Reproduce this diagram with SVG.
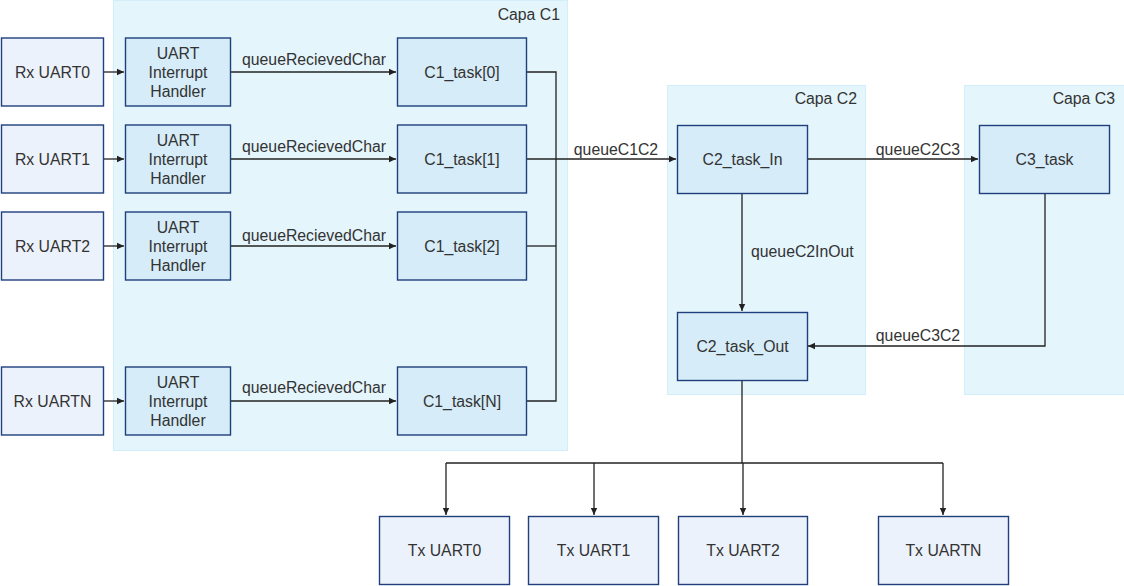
<svg xmlns="http://www.w3.org/2000/svg" width="1124" height="586" viewBox="0 0 1124 586">
<defs>
<style>
text{font-family:"Liberation Sans",Arial,sans-serif;font-size:15.8px;fill:#333;}
.mid{text-anchor:middle;}
.end{text-anchor:end;}
.cont{fill:#e4f5fc;stroke:#d2eef9;stroke-width:1;}
.task{fill:#d6ecf8;stroke:#1f3f7d;stroke-width:1.4;}
.io{fill:#ecf2fb;stroke:#1f3f7d;stroke-width:1.4;}
.ln{fill:none;stroke:#222;stroke-width:1.3;}
</style>
<marker id="ah" markerWidth="8" markerHeight="8" refX="7" refY="4" orient="auto" markerUnits="userSpaceOnUse">
<path d="M0,0.8 L7,4 L0,7.2 Z" fill="#222"/>
</marker>
</defs>
<rect width="1124" height="586" fill="#fff"/>
<g id="capaC1"><rect class="cont" x="113.5" y="0.5" width="454" height="450"/><text class="end" x="560" y="20">Capa C1</text></g>
<g id="capaC2"><rect class="cont" x="667.5" y="85.5" width="198" height="309"/><text class="end" x="857" y="104">Capa C2</text></g>
<g id="capaC3"><rect class="cont" x="964.5" y="85.5" width="160" height="309"/><text class="end" x="1115" y="104">Capa C3</text></g>

<g id="connectors">
<path class="ln" d="M103,72 H124" marker-end="url(#ah)"/>
<path class="ln" d="M103,159 H124" marker-end="url(#ah)"/>
<path class="ln" d="M103,246 H124" marker-end="url(#ah)"/>
<path class="ln" d="M103,401 H124" marker-end="url(#ah)"/>
<path class="ln" d="M231,72 H396" marker-end="url(#ah)"/>
<path class="ln" d="M231,159 H396" marker-end="url(#ah)"/>
<path class="ln" d="M231,246 H396" marker-end="url(#ah)"/>
<path class="ln" d="M231,401 H396" marker-end="url(#ah)"/>
<path class="ln" d="M527,72 H556 V401 H527"/>
<path class="ln" d="M527,246 H556"/>
<path class="ln" d="M527,159 H676" marker-end="url(#ah)"/>
<path class="ln" d="M808,159 H978" marker-end="url(#ah)"/>
<path class="ln" d="M742,194 V311" marker-end="url(#ah)"/>
<path class="ln" d="M1045,194 V346 H808" marker-end="url(#ah)"/>
<path class="ln" d="M742,381 V463"/>
<path class="ln" d="M446,463 H943"/>
<path class="ln" d="M446,463 V515" marker-end="url(#ah)"/>
<path class="ln" d="M594,463 V515" marker-end="url(#ah)"/>
<path class="ln" d="M743,463 V515" marker-end="url(#ah)"/>
<path class="ln" d="M943,463 V515" marker-end="url(#ah)"/>
<text class="mid" x="314" y="65">queueRecievedChar</text>
<text class="mid" x="314" y="152">queueRecievedChar</text>
<text class="mid" x="314" y="241">queueRecievedChar</text>
<text class="mid" x="314" y="393">queueRecievedChar</text>
<text class="mid" x="616" y="155">queueC1C2</text>
<text class="mid" x="918" y="155">queueC2C3</text>
<text x="751" y="257">queueC2InOut</text>
<text class="mid" x="918" y="341">queueC3C2</text>
</g>

<g id="rx0"><rect class="io" x="1.5" y="38" width="102" height="68"/><text class="mid" x="52.5" y="77.5">Rx UART0</text></g>
<g id="rx1"><rect class="io" x="1.5" y="125" width="102" height="68"/><text class="mid" x="52.5" y="164.5">Rx UART1</text></g>
<g id="rx2"><rect class="io" x="1.5" y="212" width="102" height="68"/><text class="mid" x="52.5" y="251.5">Rx UART2</text></g>
<g id="rxN"><rect class="io" x="1.5" y="367" width="102" height="68"/><text class="mid" x="52.5" y="406.5">Rx UARTN</text></g>

<g id="irq0"><rect class="task" x="125.5" y="38" width="105" height="68"/><text class="mid" x="178" y="58.5">UART</text><text class="mid" x="178" y="77.5">Interrupt</text><text class="mid" x="178" y="96.5">Handler</text></g>
<g id="irq1"><rect class="task" x="125.5" y="125" width="105" height="68"/><text class="mid" x="178" y="145.5">UART</text><text class="mid" x="178" y="164.5">Interrupt</text><text class="mid" x="178" y="183.5">Handler</text></g>
<g id="irq2"><rect class="task" x="125.5" y="212" width="105" height="68"/><text class="mid" x="178" y="232.5">UART</text><text class="mid" x="178" y="251.5">Interrupt</text><text class="mid" x="178" y="270.5">Handler</text></g>
<g id="irqN"><rect class="task" x="125.5" y="367" width="105" height="68"/><text class="mid" x="178" y="387.5">UART</text><text class="mid" x="178" y="406.5">Interrupt</text><text class="mid" x="178" y="425.5">Handler</text></g>

<g id="c1t0"><rect class="task" x="397.5" y="38" width="129" height="68"/><text class="mid" x="462" y="77.5">C1_task[0]</text></g>
<g id="c1t1"><rect class="task" x="397.5" y="125" width="129" height="68"/><text class="mid" x="462" y="164.5">C1_task[1]</text></g>
<g id="c1t2"><rect class="task" x="397.5" y="212" width="129" height="68"/><text class="mid" x="462" y="251.5">C1_task[2]</text></g>
<g id="c1tN"><rect class="task" x="397.5" y="367" width="129" height="68"/><text class="mid" x="462" y="406.5">C1_task[N]</text></g>

<g id="c2in"><rect class="task" x="677.5" y="125.5" width="130" height="68"/><text class="mid" x="742.5" y="165">C2_task_In</text></g>
<g id="c2out"><rect class="task" x="677.5" y="312.5" width="130" height="68"/><text class="mid" x="742.5" y="352">C2_task_Out</text></g>
<g id="c3"><rect class="task" x="979.5" y="125.5" width="130" height="68"/><text class="mid" x="1044.5" y="165">C3_task</text></g>

<g id="tx0"><rect class="io" x="379.5" y="516.5" width="130" height="68"/><text class="mid" x="444.5" y="556">Tx UART0</text></g>
<g id="tx1"><rect class="io" x="528.5" y="516.5" width="130" height="68"/><text class="mid" x="593.5" y="556">Tx UART1</text></g>
<g id="tx2"><rect class="io" x="678.5" y="516.5" width="129" height="68"/><text class="mid" x="743" y="556">Tx UART2</text></g>
<g id="txN"><rect class="io" x="878.5" y="516.5" width="130" height="68"/><text class="mid" x="943.5" y="556">Tx UARTN</text></g>
</svg>
